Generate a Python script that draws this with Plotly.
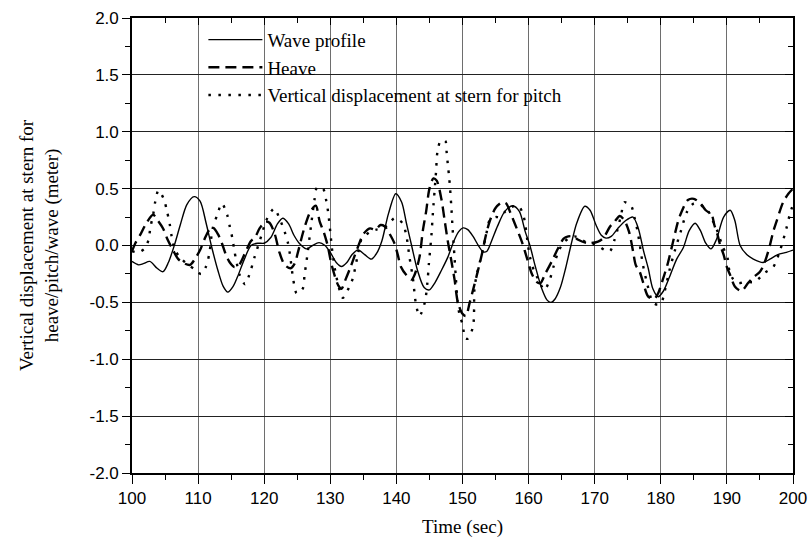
import numpy as np
import plotly.graph_objects as go

# ---------------- data ----------------
wave_t = [100, 101, 101.7, 102.7, 103.8, 104.7, 105.5, 106.4, 107.3, 108.3, 109.4, 110.3, 111.2, 112,
          113, 113.8, 114.5, 115.3, 116, 117, 118, 119, 120, 121, 122, 122.8, 123.7, 124.5, 125.3,
          126.4, 127.3, 128.3, 129.2, 130, 130.9, 131.7, 132.5, 133.3, 134.2, 135.2, 136.2, 137,
          137.8, 138.8, 139.9, 140.8, 141.5, 142.3, 143.2, 144.2, 145, 145.8, 146.8, 147.8, 148.7,
          149.4, 150.1, 150.8, 151.6, 152.4, 153.1, 153.7, 154.4, 155.3, 156.4, 157.6, 158.6, 159.5,
          160.2, 161, 162, 162.8, 163.4, 164, 164.8, 165.6, 166.4, 167.3, 168.5, 169.3, 170.2, 171,
          171.7, 172.5, 173.5, 174.7, 175.8, 176.6, 177.4, 178.1, 178.8, 179.6, 180.4, 181.3, 182.4,
          183.4, 184.3, 185.2, 186, 186.8, 187.6, 188.4, 189.5, 190.5, 191.2, 192, 193, 194, 195.5,
          196.5, 197.7, 199, 200]
wave_y = [-0.14, -0.17, -0.16, -0.14, -0.2, -0.23, -0.15, 0.0, 0.18, 0.36, 0.43, 0.39, 0.2, 0.0,
          -0.22, -0.36, -0.41, -0.36, -0.27, -0.12, 0.0, 0.02, 0.02, 0.07, 0.19, 0.24, 0.19, 0.09, 0.02,
          -0.03, 0.0, 0.025, 0.0, -0.06, -0.15, -0.185, -0.15, -0.08, -0.04, -0.08, -0.12, -0.07,
          0.04, 0.28, 0.455, 0.38, 0.2, 0.0, -0.22, -0.37, -0.39, -0.33, -0.22, -0.1, 0.04,
          0.12, 0.155, 0.14, 0.08, 0.0, -0.055, -0.05, 0.04, 0.17, 0.3, 0.35, 0.3, 0.12,
          0.0, -0.18, -0.38, -0.48, -0.5, -0.47, -0.37, -0.2, 0.0, 0.2, 0.345, 0.31, 0.18, 0.09,
          0.065, 0.08, 0.15, 0.22, 0.25, 0.15, -0.05, -0.2, -0.38, -0.45, -0.4, -0.28, -0.12,
          -0.02, 0.13, 0.195, 0.13, 0.02, -0.03, 0.05, 0.25, 0.31, 0.22, 0.0, -0.08, -0.12, -0.15,
          -0.12, -0.08, -0.06, -0.04]

heave_t = [100, 100.5, 101.3, 102.2, 103.2, 103.9, 104.7, 105.4, 106.2, 107, 108, 108.8, 109.5, 110.3,
           111, 111.6, 112.2, 113, 113.6, 114.2, 114.8, 115.5, 116.2, 117, 118, 118.6, 119.3, 120.2,
           120.8, 121.6, 122.3, 123.1, 124, 124.6, 125.1, 126, 127, 127.8, 128.4, 129, 129.6, 130.2,
           131.2, 131.7, 132.3, 133, 133.5, 134.2, 135, 136, 136.8, 137.6, 138.2, 138.8, 139.7,
           140.2, 140.7, 141.5, 142.3, 142.8, 143.5, 144, 144.5, 145, 145.6, 146.1, 146.8, 147.3,
           147.8, 148.3, 148.8, 149.3, 150, 150.5, 151.1, 151.6, 152.3, 153, 153.5, 154.1, 155, 156,
           156.6, 157.3, 158.2, 159, 159.8, 160.5, 161.2, 161.8, 162.5, 163.5, 164.5, 165.3, 166,
           166.8, 167.5, 169, 170.5, 171.3, 172.3, 173, 173.8, 174.5, 175.2, 175.8, 176.2, 176.8,
           177.3, 178.1, 179, 179.6, 180.3, 181, 181.8, 182.6, 183.1, 184.1, 185, 186, 186.8, 187.7,
           188.1, 188.6, 189, 189.5, 190, 190.5, 191.2, 192.2, 193.2, 194, 195, 195.5, 196, 196.5,
           197, 197.5, 198.5, 199.3, 200]
heave_y = [-0.05, 0.02, 0.1, 0.2, 0.27, 0.22, 0.15, 0.05, -0.04, -0.12, -0.16, -0.17, -0.12, -0.04,
           0.06, 0.13, 0.16, 0.1, 0.02, -0.08, -0.15, -0.19, -0.17, -0.08, 0.04, 0.07, 0.15, 0.21,
           0.2, 0.1, -0.06, -0.17, -0.2, -0.16, -0.06, 0.14, 0.3, 0.35, 0.21, 0.12, 0.0, -0.17,
           -0.35, -0.38, -0.3, -0.2, -0.12, -0.01, 0.1, 0.15, 0.14, 0.18, 0.17, 0.12, 0.02,
           -0.08, -0.19, -0.26, -0.3, -0.25, -0.1, 0.13, 0.3, 0.5, 0.59, 0.57, 0.41, 0.22,
           0.03, -0.13, -0.3, -0.5, -0.6, -0.62, -0.5, -0.39, -0.23, -0.06, 0.08, 0.21, 0.33, 0.38,
           0.37, 0.28, 0.15, 0.03, -0.12, -0.25, -0.32, -0.33, -0.25, -0.14, -0.02, 0.06, 0.08,
           0.08, 0.05, 0.02, 0.035, 0.065, 0.165, 0.21, 0.26, 0.22, 0.12, -0.05, -0.17, -0.23,
           -0.32, -0.45, -0.47, -0.42, -0.3, -0.17, 0.02, 0.21, 0.29, 0.4, 0.41, 0.37, 0.31, 0.27,
           0.18, 0.09, 0.0, -0.08, -0.19, -0.26, -0.36, -0.4, -0.33, -0.28, -0.23, -0.18, -0.1, 0.0,
           0.12, 0.21, 0.38, 0.455, 0.5]

pitch_t = [100, 101, 102, 102.5, 102.8, 103.2, 103.5, 104, 104.8, 105.3, 105.7, 106, 106.5, 107.5,
           108.5, 109.5, 110, 110.5, 111.2, 111.7, 112.2, 112.9, 113.6, 114.4, 114.8, 115.2, 115.5,
           116.3, 117.1, 117.9, 118.5, 119.7, 120.3, 121.5, 122.3, 123.1, 123.6, 123.9, 124.4, 124.9,
           125.4, 125.9, 126.1, 126.4, 127.1, 127.6, 128, 128.9, 129.4, 129.7, 130.1, 130.3, 130.9,
           131.9, 132.9, 133.4, 134.2, 134.7, 136, 137, 138, 139, 139.7, 140.5, 141, 141.5, 142,
           142.5, 142.8, 143, 143.5, 144.3, 144.7, 144.9, 145.3, 145.5, 146, 146.2, 146.7, 147.4,
           147.6, 147.8, 148, 148.3, 148.5, 148.8, 149, 149.3, 149.6, 150.1, 150.3, 150.8, 151.6,
           151.8, 152.1, 152.6, 153.1, 153.6, 154.1, 155, 155.6, 156.5, 157.5, 158.4, 159, 159.4,
           159.8, 160.2, 160.8, 161.4, 162.4, 163.2, 163.8, 164.4, 165.2, 166, 167, 168, 169, 170,
           170.7, 171.5, 172.3, 173, 173.5, 174, 174.5, 175.5, 176, 176.5, 177.3, 178, 178.8,
           179.5, 180.1, 180.6, 181.3, 182.1, 183, 184, 185, 186, 186.7, 187.2, 188, 188.6, 189.3,
           190.1, 190.4, 191, 191.8, 192.7, 194.2, 195.7, 197, 198, 199, 199.5, 200]
pitch_y = [-0.05, -0.06, -0.02, 0.05, 0.165, 0.27, 0.38, 0.485, 0.41, 0.3, 0.19, 0.08, -0.04, -0.12,
           -0.17, -0.21, -0.24, -0.25, -0.185, -0.07, 0.15, 0.27, 0.37, 0.27, 0.165, 0.06, -0.05,
           -0.26, -0.34, -0.23, -0.11, 0.11, 0.22, 0.325, 0.24, 0.12, 0.02, -0.08, -0.3, -0.42,
           -0.41, -0.37, -0.26, -0.14, 0.18, 0.4, 0.51, 0.5, 0.39, 0.28, 0.06, -0.05, -0.27,
           -0.46, -0.36, -0.29, -0.07, 0.05, 0.12, 0.14, 0.15, 0.2, 0.24, 0.22, 0.19, 0.09, -0.11,
           -0.29, -0.45, -0.53, -0.62, -0.5, -0.32, -0.17, 0.09, 0.27, 0.65, 0.82, 0.92, 0.92,
           0.82, 0.7, 0.59, 0.35, 0.15, -0.11, -0.29, -0.52, -0.62, -0.71, -0.81, -0.82, -0.71,
           -0.39, -0.27, -0.15, -0.03, 0.1, 0.22, 0.25, 0.25, 0.3, 0.34, 0.35, 0.3, 0.22,
           0.05, -0.1, -0.22, -0.29, -0.39, -0.3, -0.18, -0.07, 0.02, 0.06, 0.08, 0.05, 0.02, 0.01,
           -0.01, -0.04, -0.05, 0.05, 0.15, 0.27, 0.38, 0.35, 0.25, 0.12, -0.17, -0.35, -0.5,
           -0.52, -0.5, -0.4, -0.22, -0.05, 0.12, 0.3, 0.37, 0.36, 0.32, 0.3, 0.2, 0.12, 0.0,
           -0.11, -0.23, -0.3, -0.33, -0.32, -0.32, -0.24, -0.19, -0.05, 0.15, 0.27, 0.36]

x_ticks = [100, 110, 120, 130, 140, 150, 160, 170, 180, 190, 200]
x_ticklabels = ["100", "110", "120", "130", "140", "150", "160", "170", "180", "190", "200"]
y_ticks = [2.0, 1.5, 1.0, 0.5, 0.0, -0.5, -1.0, -1.5, -2.0]
y_ticklabels = ["2.0", "1.5", "1.0", "0.5", "0.0", "-0.5", "-1.0", "-1.5", "-2.0"]

series_names = ["Wave profile", "Heave", "Vertical displacement at stern for pitch"]
x_title = "Time (sec)"
y_title = "Vertical displacement at stern for<br>heave/pitch/wave (meter)"

# ---------------- figure ----------------
fig = go.Figure()
fig.add_trace(go.Scatter(x=wave_t, y=wave_y, mode="lines", name=series_names[0],
                         line=dict(color="black", width=1.4, shape="spline", smoothing=0.8)))
fig.add_trace(go.Scatter(x=heave_t, y=heave_y, mode="lines", name=series_names[1],
                         line=dict(color="black", width=2.4, dash="11px,6px", shape="spline", smoothing=0.8)))
fig.add_trace(go.Scatter(x=pitch_t, y=pitch_y, mode="lines", name=series_names[2],
                         line=dict(color="black", width=2.4, dash="2.5px,7.5px", shape="spline", smoothing=0.8)))

tick_font = dict(family="Liberation Sans, Arial, sans-serif", size=17, color="black")
title_font = dict(family="Liberation Serif, Times New Roman, serif", size=19, color="black")

minor_x = list(np.arange(105, 200, 10))
minor_y = list(np.arange(-1.75, 2.0, 0.5))

fig.update_layout(
    width=809, height=544,
    margin=dict(l=132, r=16, t=18, b=71, autoexpand=False),
    paper_bgcolor="white", plot_bgcolor="white",
    showlegend=True,
    legend=dict(x=0.108, y=0.994, xanchor="left", yanchor="top",
                bgcolor="rgba(0,0,0,0)", borderwidth=0,
                font=dict(family="Liberation Serif, Times New Roman, serif", size=19, color="black"),
                itemwidth=54, tracegroupgap=0),
    xaxis=dict(range=[100, 200], tickmode="array", tickvals=x_ticks, ticktext=x_ticklabels,
               ticks="outside", ticklen=9, tickwidth=1.2, tickcolor="black",
               showgrid=True, gridcolor="#6e6e6e", gridwidth=1,
               showline=True, linecolor="black", linewidth=1.6, mirror=False,
               zeroline=False, tickfont=tick_font, automargin=False,
               minor=dict(tickmode="array", tickvals=minor_x,
                          ticks="outside", ticklen=5, tickwidth=1.2, tickcolor="black", showgrid=False),
               title=dict(text=x_title, font=title_font, standoff=12)),
    yaxis=dict(range=[-2, 2], tickmode="array", tickvals=y_ticks, ticktext=y_ticklabels,
               ticks="outside", ticklen=8, tickwidth=1.2, tickcolor="black",
               showgrid=True, gridcolor="#222222", gridwidth=1,
               showline=True, linecolor="black", linewidth=1.6, mirror=False,
               zeroline=False, tickfont=tick_font, automargin=False,
               minor=dict(tickmode="array", tickvals=minor_y,
                          ticks="outside", ticklen=5, tickwidth=1.2, tickcolor="black", showgrid=False),
               title=dict(text=y_title, font=title_font, standoff=26)),
    xaxis2=dict(range=[100, 200], overlaying="x", side="top", automargin=False,
                tickmode="array", tickvals=x_ticks, showticklabels=False,
                ticks="inside", ticklen=7, tickwidth=1.2, tickcolor="black",
                showgrid=False, zeroline=False, showline=True, linecolor="black", linewidth=1.6,
                minor=dict(tickmode="array", tickvals=minor_x,
                           ticks="inside", ticklen=5, tickwidth=1.2, tickcolor="black", showgrid=False)),
    yaxis2=dict(range=[-2, 2], overlaying="y", side="right", automargin=False,
                tickmode="array", tickvals=y_ticks, showticklabels=False,
                ticks="inside", ticklen=8, tickwidth=1.2, tickcolor="black",
                showgrid=False, zeroline=False, showline=True, linecolor="black", linewidth=1.6,
                minor=dict(tickmode="array", tickvals=minor_y,
                           ticks="inside", ticklen=5, tickwidth=1.2, tickcolor="black", showgrid=False)),
)

# invisible companion trace so the mirrored (top/right) axes are rendered
fig.add_trace(go.Scatter(x=[x_ticks[0]], y=[y_ticks[-1]], xaxis="x2", yaxis="y2",
                         mode="markers", marker=dict(opacity=0), showlegend=False, hoverinfo="skip"))

# remove the browser's default 8px page margin so the figure sits at the window origin
fig.write_html("out.html", config={"displayModeBar": False},
               post_script="document.body.style.margin='0';")
